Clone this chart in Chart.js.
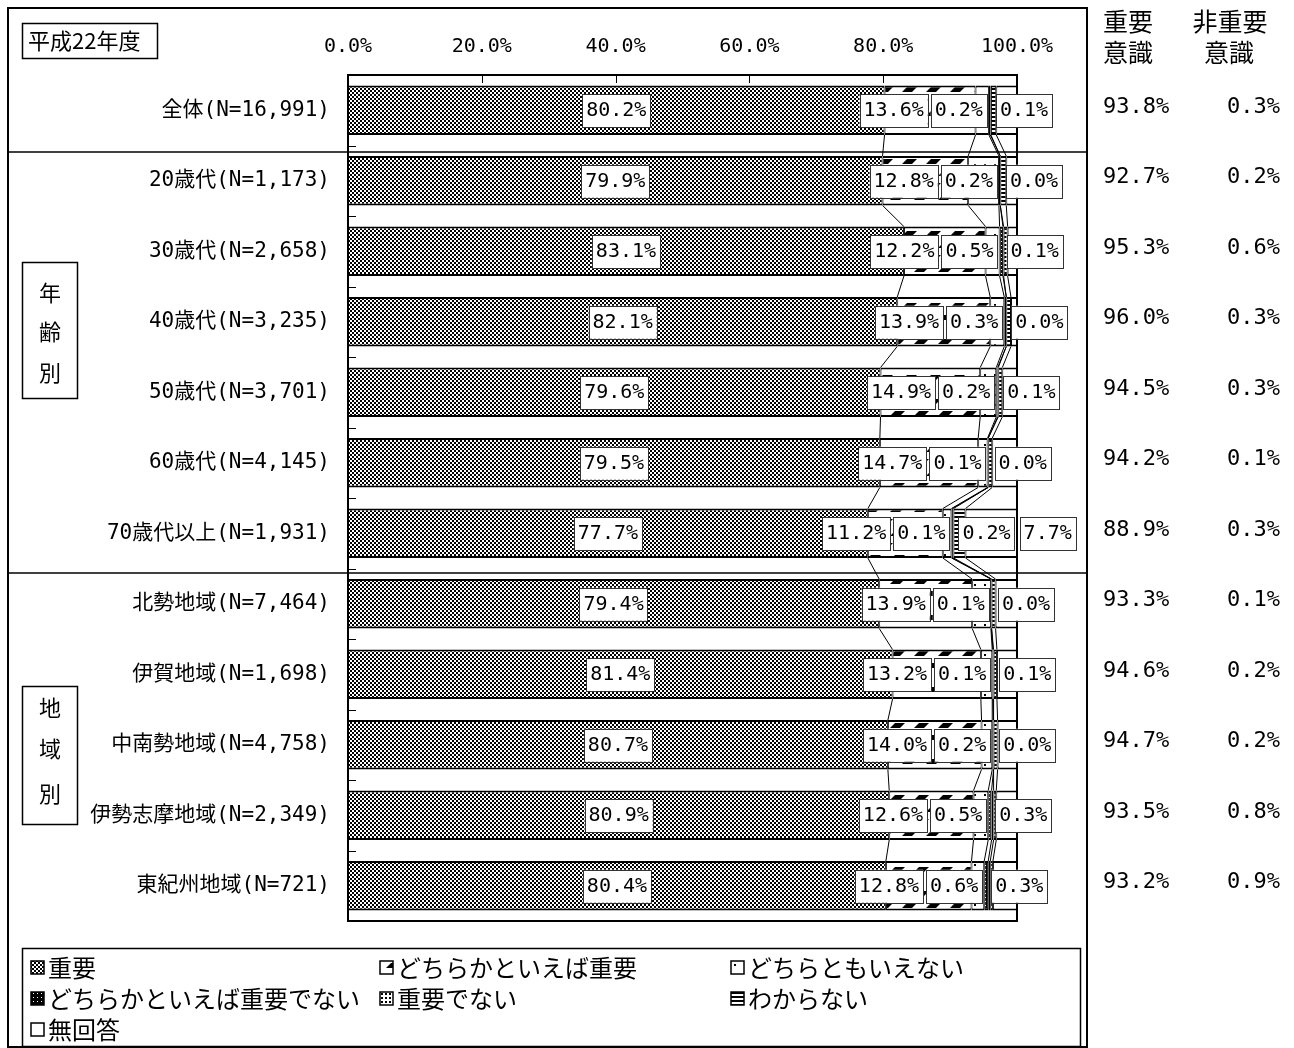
<!DOCTYPE html>
<html><head><meta charset="utf-8">
<script src="https://cdn.jsdelivr.net/npm/chart.js@4.4.1/dist/chart.umd.min.js"></script>
<style>html,body{margin:0;padding:0;background:#fff;}canvas{display:block;}</style>
</head><body>
<canvas id="c" width="1294" height="1048"></canvas>
<script>
// ---- data ----
const yearTitle = '平成22年度';
const categories = ['全体(N=16,991)','20歳代(N=1,173)','30歳代(N=2,658)','40歳代(N=3,235)','50歳代(N=3,701)','60歳代(N=4,145)','70歳代以上(N=1,931)','北勢地域(N=7,464)','伊賀地域(N=1,698)','中南勢地域(N=4,758)','伊勢志摩地域(N=2,349)','東紀州地域(N=721)'];
const seriesNames = ['重要','どちらかといえば重要','どちらともいえない','どちらかといえば重要でない','重要でない','わからない','無回答'];
const important      = [80.2,79.9,83.1,82.1,79.6,79.5,77.7,79.4,81.4,80.7,80.9,80.4];
const ratherImportant= [13.6,12.8,12.2,13.9,14.9,14.7,11.2,13.9,13.2,14.0,12.6,12.8];
const neither        = [2.0,4.6,2.1,2.1,2.4,1.4,1.3,2.8,1.7,1.6,2.2,1.9];
const ratherNot      = [0.2,0.2,0.5,0.3,0.2,0.1,0.1,0.1,0.1,0.2,0.5,0.6];
const notImportant   = [0.1,0.0,0.1,0.0,0.1,0.0,0.2,0.0,0.1,0.0,0.3,0.3];
const dontKnow       = [0.8,0.9,0.6,0.7,0.6,0.6,1.8,0.6,0.5,0.6,0.4,0.4];
const noAnswer       = [3.1,1.6,1.4,0.9,2.2,3.7,7.7,3.2,3.0,2.9,3.1,3.6];
const xTickValues = [0,20,40,60,80,100];
const xTickLabels = ['0.0%','20.0%','40.0%','60.0%','80.0%','100.0%'];
const groupNames = ['年齢別','地域別'];
const rightHeaders = [['重要','意識'],['非重要','意識']];

const series = [important, ratherImportant, neither, ratherNot, notImportant, dontKnow, noAnswer];

// ---- patterns ----
const canvas = document.getElementById('c');
const mainCtx = canvas.getContext('2d');
function mk(w,h,draw){
  const c=document.createElement('canvas');c.width=w;c.height=h;
  const g=c.getContext('2d');g.fillStyle='#fff';g.fillRect(0,0,w,h);g.fillStyle='#000';draw(g,w,h);
  return mainCtx.createPattern(c,'repeat');
}
function dash(g,x0,y0){g.beginPath();g.moveTo(x0,y0+5);g.lineTo(x0+5,y0);g.lineTo(x0+15,y0);g.lineTo(x0+10,y0+5);g.closePath();g.fill();}
const patterns = [
  mk(4,4,g=>{g.fillRect(0,0,2,2);g.fillRect(2,2,2,2);}),
  mk(24,24,g=>{dash(g,2,3);dash(g,14,15);dash(g,-10,15);}),
  mk(10,10,g=>{g.fillRect(4,4,2,2);}),
  mk(4,4,g=>{g.fillRect(0,0,4,4);g.fillStyle='#fff';g.fillRect(1,1,1,1);}),
  mk(4,4,g=>{g.fillRect(1,1,2,2);}),
  mk(4,4,g=>{g.fillRect(0,0,4,2);}),
  '#ffffff'
];

const NUM_FONT = '"DejaVu Sans Mono","Noto Sans CJK JP"';
const JP_FONT = '"Noto Sans CJK JP","Noto Sans CJK SC",sans-serif';

const decor = {
  id:'decor',
  afterDatasetsDraw(chart){
    const ctx=chart.ctx, xs=chart.scales.x, ys=chart.scales.y, ca=chart.chartArea;
    const m0=chart.getDatasetMeta(0);
    ctx.save();
    // series lines
    ctx.strokeStyle='#000';ctx.lineWidth=1;
    for(let i=0;i<categories.length-1;i++){
      const a=m0.data[i], b=m0.data[i+1];
      const y1=a.y+a.height/2, y2=b.y-b.height/2;
      let c1=0,c2=0;
      for(let k=0;k<6;k++){
        c1+=series[k][i];c2+=series[k][i+1];
        ctx.beginPath();ctx.moveTo(xs.getPixelForValue(c1),y1);ctx.lineTo(xs.getPixelForValue(c2),y2);ctx.stroke();
      }
    }
    // plot border
    ctx.lineWidth=2;ctx.strokeRect(ca.left,ca.top,ca.right-ca.left,ca.bottom-ca.top);
    // inward ticks
    ctx.lineWidth=1;
    xTickValues.forEach(v=>{const px=Math.round(xs.getPixelForValue(v))+0.5;ctx.beginPath();ctx.moveTo(px,ca.top);ctx.lineTo(px,ca.top+8);ctx.stroke();});
    const step=(ys.getPixelForValue(1)-ys.getPixelForValue(0));
    for(let i=0;i<=categories.length;i++){
      const py=Math.round(ys.getPixelForValue(i)-step/2)+0.5;
      ctx.beginPath();ctx.moveTo(ca.left,py);ctx.lineTo(ca.left+8,py);ctx.stroke();
    }
    // data labels
    ctx.font='20px '+NUM_FONT;ctx.textAlign='center';ctx.textBaseline='middle';
    const fmt=v=>v.toFixed(1)+'%';
    const W=t=>ctx.measureText(t).width+8;
    function box(t,left,cy){
      const w=W(t),h=33;
      ctx.fillStyle='#fff';ctx.fillRect(left,cy-16,w,h);
      ctx.strokeStyle='#333';ctx.lineWidth=1;ctx.strokeRect(Math.round(left)+0.5,Math.round(cy-16)+0.5,Math.round(w),h);
      ctx.fillStyle='#000';ctx.fillText(t,left+w/2,cy+1);
    }
    for(let i=0;i<categories.length;i++){
      const cy=ys.getPixelForValue(i);
      const cum=[0];for(let k=0;k<7;k++)cum.push(cum[k]+series[k][i]);
      const b=cum.map(v=>xs.getPixelForValue(v));
      const t0=fmt(series[0][i]),t1=fmt(series[1][i]),t3=fmt(series[3][i]),t4=fmt(series[4][i]);
      box(t0,(b[0]+b[1])/2-W(t0)/2,cy);
      const l3=b[3]-2-W(t3);
      box(t3,l3,cy);
      box(t1,l3-3-W(t1),cy);
      const l4=b[3]-2+9;
      box(t4,l4,cy);
      if(series[6][i]>=5){const t6=fmt(series[6][i]);box(t6,l4+W(t4)+5,cy);}
    }
    ctx.restore();
  },
  afterDraw(chart){
    const ctx=chart.ctx, ys=chart.scales.y;
    ctx.save();
    ctx.strokeStyle='#000';
    // outer frame
    ctx.lineWidth=2;ctx.strokeRect(8,8,1079,1039);
    // separators
    const step=(ys.getPixelForValue(1)-ys.getPixelForValue(0));
    ctx.lineWidth=1.5;
    [[0,6],[6,4.5]].forEach(([i,off])=>{
      const py=Math.round(ys.getPixelForValue(i)+step/2+off);
      ctx.beginPath();ctx.moveTo(8,py);ctx.lineTo(1087,py);ctx.stroke();
    });
    // title box
    ctx.lineWidth=1.5;ctx.strokeRect(22.5,23.5,135,35);
    ctx.fillStyle='#000';ctx.font='22px '+JP_FONT;ctx.textAlign='left';ctx.textBaseline='middle';
    ctx.fillText(yearTitle,28,41);
    // group boxes
    const groups=[{top:262,bottom:398,ys:[293,332,373]},{top:686,bottom:824,ys:[708,749,794]}];
    groups.forEach((gb,gi)=>{
      ctx.fillStyle='#fff';ctx.fillRect(22,gb.top,55,gb.bottom-gb.top);
      ctx.strokeRect(22.5,gb.top+0.5,55,gb.bottom-gb.top);
      ctx.fillStyle='#000';ctx.textAlign='center';ctx.font='22px '+JP_FONT;
      [...groupNames[gi]].forEach((ch,j)=>ctx.fillText(ch,50,gb.ys[j]));
    });
    // right headers
    ctx.font='25px '+JP_FONT;ctx.textAlign='left';
    ctx.fillText(rightHeaders[0][0],1103,21);ctx.fillText(rightHeaders[0][1],1103,52);
    ctx.textAlign='center';
    ctx.fillText(rightHeaders[1][0],1230,21);ctx.fillText(rightHeaders[1][1],1229,52);
    // right values
    ctx.font='22px '+NUM_FONT;
    for(let i=0;i<categories.length;i++){
      const cy=ys.getPixelForValue(i)-3;
      const imp=(important[i]+ratherImportant[i]).toFixed(1)+'%';
      const non=(ratherNot[i]+notImportant[i]).toFixed(1)+'%';
      ctx.textAlign='left';ctx.fillText(imp,1103,cy);
      ctx.textAlign='right';ctx.fillText(non,1280,cy);
    }
    // legend
    ctx.lineWidth=1.5;ctx.strokeRect(22.5,948.5,1058,98);
    const cols=[31,380,731], rows=[967,998,1029];
    ctx.font='24px '+JP_FONT;ctx.textAlign='left';
    seriesNames.forEach((name,k)=>{
      const x=cols[k%3], y=rows[Math.floor(k/3)];
      ctx.fillStyle=patterns[k];ctx.fillRect(x,y-6,13,13);
      ctx.strokeStyle='#000';ctx.lineWidth=1.5;ctx.strokeRect(x,y-6,13,13);
      ctx.fillStyle='#000';ctx.fillText(name,x+17,y+1);
    });
    ctx.restore();
  }
};

new Chart(canvas,{
  type:'bar',
  data:{
    labels:categories,
    datasets:series.map((vals,k)=>({
      label:seriesNames[k],data:vals,backgroundColor:patterns[k],
      borderColor:'#000',borderWidth:{top:2,bottom:2,left:1,right:1},borderSkipped:false,
      barPercentage:0.7,categoryPercentage:1
    }))
  },
  options:{
    indexAxis:'y',responsive:false,maintainAspectRatio:false,animation:false,
    layout:{padding:{left:0,right:277,top:0,bottom:127}},
    plugins:{legend:{display:false},tooltip:{enabled:false}},
    scales:{
      x:{type:'linear',position:'top',stacked:true,min:0,max:100,
        afterFit:s=>{s.height=75;},
        afterBuildTicks:s=>{s.ticks=xTickValues.map(v=>({value:v}));},
        grid:{display:false,drawTicks:false},border:{display:false},
        ticks:{padding:16,color:'#000',font:{family:NUM_FONT,size:20},maxRotation:0,callback:(v,i)=>xTickLabels[i]}},
      y:{type:'category',stacked:true,
        afterFit:s=>{s.width=348;},
        grid:{display:false,drawTicks:false},border:{display:false},
        ticks:{padding:18,color:'#000',font:{family:NUM_FONT,size:21}}}
    }
  },
  plugins:[decor]
});
</script>
</body></html>
